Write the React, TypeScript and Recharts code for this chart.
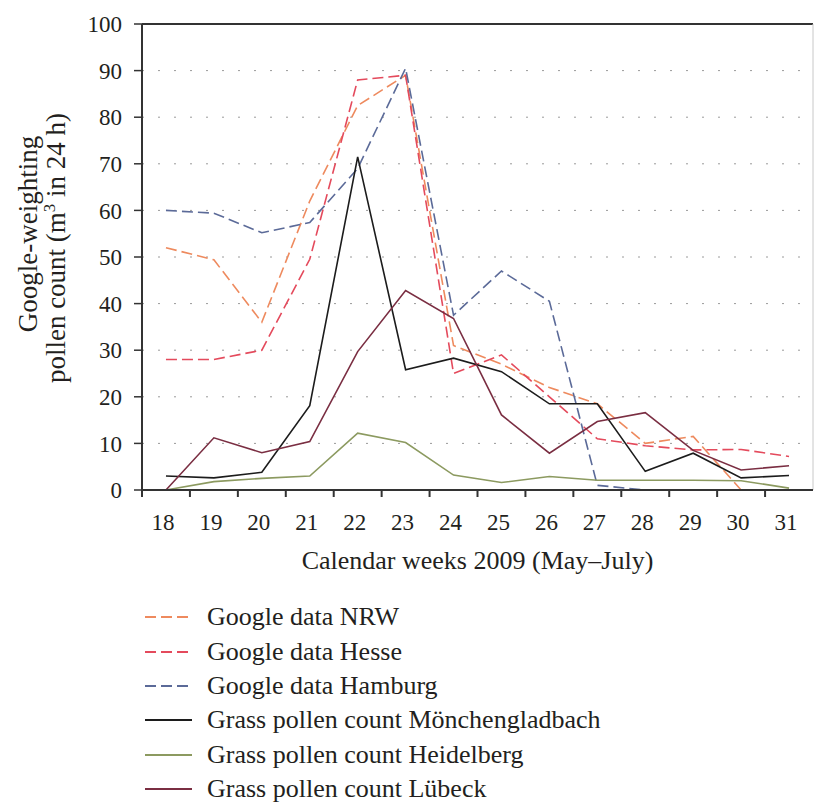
import React from 'react';
import { LineChart, Line, XAxis, YAxis, CartesianGrid, Legend, ReferenceLine } from 'recharts';

// calendar weeks 2009
const WEEKS = [18, 19, 20, 21, 22, 23, 24, 25, 26, 27, 28, 29, 30, 31];
const Y_TICKS = [0, 10, 20, 30, 40, 50, 60, 70, 80, 90, 100];

const GOOGLE_NRW = [52, 49.4, 36, 62, 82.5, 89, 31, 27, 22, 18.5, 10, 11.5, 0, 0];
const GOOGLE_HESSE = [28, 28, 30, 49.5, 88, 89, 25, 29, 20, 11, 9.5, 8.6, 8.7, 7.2];
const GOOGLE_HAMBURG = [60, 59.4, 55.2, 57.4, 69, 90.5, 37.5, 47, 40.5, 1, 0, 0, 0, 0];
const POLLEN_MGLADBACH = [3, 2.6, 3.8, 18.1, 71.5, 25.8, 28.3, 25.4, 18.5, 18.5, 4, 7.9, 2.6, 3.1];
const POLLEN_HEIDELBERG = [0, 1.8, 2.5, 3, 12.2, 10.2, 3.2, 1.6, 2.9, 2.1, 2.1, 2.1, 2, 0.4];
const POLLEN_LUEBECK = [0, 11.2, 8, 10.4, 29.7, 42.8, 36.8, 16.1, 7.9, 14.7, 16.6, 8.5, 4.3, 5.2];

const SERIES = [
   { key: 'nrw', name: 'Google data NRW', values: GOOGLE_NRW, color: '#ee8a5e', dash: '11 5' },
   { key: 'hesse', name: 'Google data Hesse', values: GOOGLE_HESSE, color: '#e44a5c', dash: '11 5' },
   { key: 'hamburg', name: 'Google data Hamburg', values: GOOGLE_HAMBURG, color: '#5b6a98', dash: '11 5' },
   { key: 'mgladbach', name: 'Grass pollen count Mönchengladbach', values: POLLEN_MGLADBACH, color: '#1c1c1c', dash: undefined },
   { key: 'heidelberg', name: 'Grass pollen count Heidelberg', values: POLLEN_HEIDELBERG, color: '#8c9a60', dash: undefined },
   { key: 'luebeck', name: 'Grass pollen count Lübeck', values: POLLEN_LUEBECK, color: '#7a2e42', dash: undefined }
];

const data = WEEKS.map((week, i) => {
   const row: Record<string, number> = { week };
   SERIES.forEach((s) => {
      row[s.key] = s.values[i];
   });
   return row;
});

const FONT = "'Liberation Serif', 'Times New Roman', serif";
const INK = '#231f20';
const AXIS = '#333';

const W = 814;
const H = 803;
const LEFT = 142;
const RIGHT = 1;
const STEP = (W - LEFT - RIGHT) / WEEKS.length;

const WeekTick = ({ x, y, payload }: any) => (
   <g>
      <line x1={x - STEP / 2} x2={x - STEP / 2} y1={y} y2={y + 7} stroke={AXIS} strokeWidth={2} />
      <text x={x - 3} y={y + 40} textAnchor='middle' fontFamily={FONT} fontSize={23} fill={INK}>
         {payload.value}
      </text>
   </g>
);

const XTitle = ({ viewBox }: any) => (
   <text
      x={viewBox.x + viewBox.width / 2}
      y={viewBox.y + 79}
      textAnchor='middle'
      fontFamily={FONT}
      fontSize={26}
      fill={INK}
   >
      Calendar weeks 2009 (May–July)
   </text>
);

const YTitle = ({ viewBox }: any) => {
   const x1 = viewBox.x + 37;
   const x2 = viewBox.x + 65;
   const y1 = 234;
   const y2 = 248;
   return (
      <g fontFamily={FONT} fontSize={27} fill={INK}>
         <text x={x1} y={y1} textAnchor='middle' transform={`rotate(-90, ${x1}, ${y1})`}>
            Google-weighting
         </text>
         <text x={x2} y={y2} textAnchor='middle' transform={`rotate(-90, ${x2}, ${y2})`}>
            pollen count (m<tspan dy={-10} fontSize={17}>3</tspan>
            <tspan dy={10}> in 24 h)</tspan>
         </text>
      </g>
   );
};

// keep legend rows in series order (recharts sorts by name otherwise)
const LegendBox = ({ payload }: any) => {
   const items = SERIES.map((s) => ({ s, p: (payload || []).find((p: any) => p.dataKey === s.key) })).filter(
      (it) => it.p
   );
   return (
      <div style={{ fontFamily: FONT, fontSize: 26, color: INK }}>
         {items.map(({ s, p }) => (
            <div key={s.key} style={{ display: 'flex', alignItems: 'center', height: 34.4 }}>
               <svg width={47} height={10} style={{ marginRight: 15 }}>
                  <line x1={0} x2={47} y1={5} y2={5} stroke={p.color} strokeWidth={2} strokeDasharray={s.dash} />
               </svg>
               <span style={{ lineHeight: '34px' }}>{p.value}</span>
            </div>
         ))}
      </div>
   );
};

export default function App() {
   return (
      <div style={{ position: 'absolute', left: 0, top: 0 }}>
         <LineChart width={W} height={H} data={data} margin={{ top: 24, right: RIGHT, left: 0, bottom: 223 }}>
            <CartesianGrid vertical={false} strokeDasharray='2 14' stroke='#9a9a9a' />
            <XAxis
               dataKey='week'
               type='number'
               domain={[17.5, 31.5]}
               ticks={WEEKS}
               interval={0}
               height={90}
               tickLine={false}
               tickSize={0}
               tickMargin={0}
               tick={<WeekTick />}
               axisLine={{ stroke: AXIS, strokeWidth: 2 }}
               label={<XTitle />}
            />
            <YAxis
               domain={[0, 100]}
               ticks={Y_TICKS}
               interval={0}
               width={LEFT}
               tickSize={8}
               tickMargin={12}
               tickLine={{ stroke: AXIS, strokeWidth: 1.5 }}
               axisLine={{ stroke: AXIS, strokeWidth: 2 }}
               tick={{ fontFamily: FONT, fontSize: 23, fill: INK }}
               label={<YTitle />}
            />
            <ReferenceLine y={100} stroke={AXIS} strokeWidth={2} />
            <ReferenceLine x={31.5} stroke='#c8c8c8' strokeWidth={1} />
            {SERIES.map((s) => (
               <Line
                  key={s.key}
                  type='linear'
                  dataKey={s.key}
                  name={s.name}
                  stroke={s.color}
                  strokeWidth={1.6}
                  strokeDasharray={s.dash}
                  dot={false}
                  activeDot={false}
                  isAnimationActive={false}
               />
            ))}
            <Legend
               layout='vertical'
               align='center'
               verticalAlign='middle'
               content={<LegendBox />}
               wrapperStyle={{ position: 'absolute', left: 145, top: 600, width: 'auto' }}
            />
         </LineChart>
      </div>
   );
}
